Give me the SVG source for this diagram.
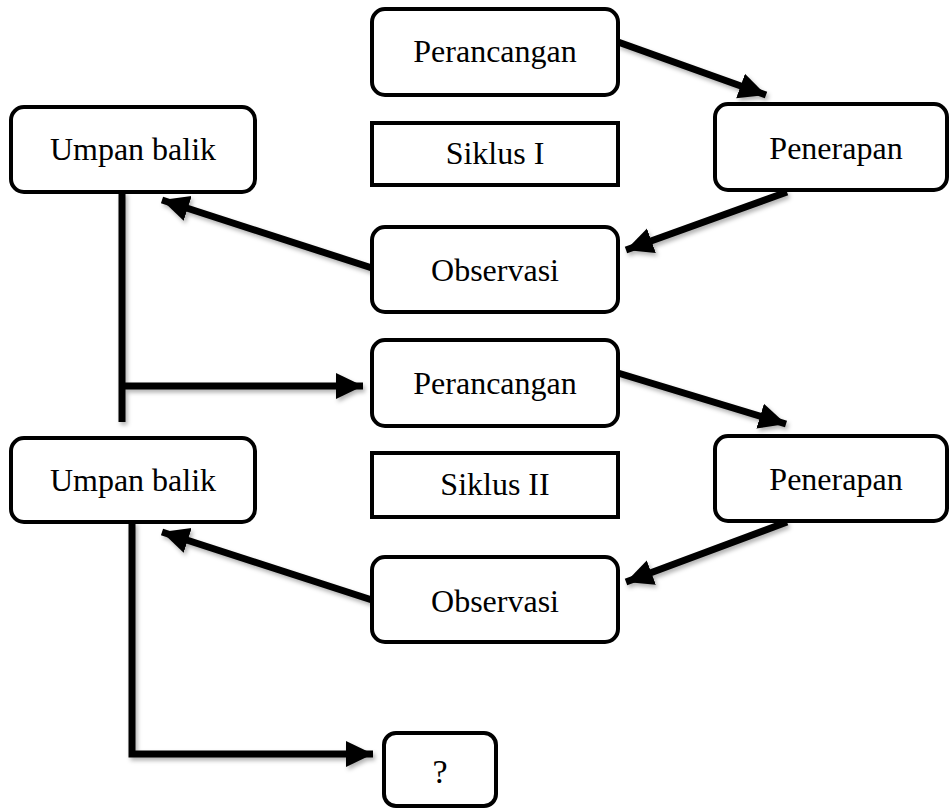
<svg xmlns="http://www.w3.org/2000/svg" width="950" height="809" viewBox="0 0 950 809">
<style>
.box{fill:#fff;stroke:#000;stroke-width:4}
.t{font-family:"Liberation Serif","Times New Roman",serif;font-size:32px;fill:#000;text-anchor:middle}
.q{font-size:34px}
.c{stroke:#000;stroke-width:7;fill:none}
</style>
<defs>
<marker id="ah" markerUnits="userSpaceOnUse" markerWidth="28" markerHeight="28" viewBox="0 0 28 28" refX="27" refY="14" orient="auto">
<path d="M0,1 L27,14 L0,27 Z" fill="#000"/>
</marker>
<filter id="sh" x="-10%" y="-10%" width="130%" height="130%">
<feDropShadow dx="2" dy="3" stdDeviation="2" flood-color="#000" flood-opacity="0.3"/>
</filter>
</defs>
<rect width="950" height="809" fill="#fff"/>
<g id="connectors" filter="url(#sh)">
<line class="c" x1="618" y1="42" x2="766" y2="95" marker-end="url(#ah)"/>
<line class="c" x1="787" y1="192" x2="626" y2="250" marker-end="url(#ah)"/>
<line class="c" x1="372" y1="268" x2="162" y2="200" marker-end="url(#ah)"/>
<line class="c" x1="122" y1="192" x2="122" y2="422"/>
<line class="c" x1="119" y1="386" x2="363" y2="386" marker-end="url(#ah)"/>
<line class="c" x1="618" y1="373" x2="786" y2="424" marker-end="url(#ah)"/>
<line class="c" x1="787" y1="522" x2="626" y2="582" marker-end="url(#ah)"/>
<line class="c" x1="372" y1="600" x2="162" y2="532" marker-end="url(#ah)"/>
<polyline class="c" points="132,522 132,754 373,754" marker-end="url(#ah)"/>
</g>
<g id="perancangan1"><rect class="box" x="372" y="9" width="246" height="86" rx="13"/><text class="t" x="495" y="62">Perancangan</text></g>
<g id="siklus1"><rect class="box" x="372" y="123" width="246" height="62"/><text class="t" x="495" y="164">Siklus I</text></g>
<g id="observasi1"><rect class="box" x="372" y="227" width="246" height="85" rx="13"/><text class="t" x="495" y="281">Observasi</text></g>
<g id="penerapan1"><rect class="box" x="715" y="104" width="232" height="86" rx="13"/><text class="t" x="836" y="159">Penerapan</text></g>
<g id="umpanbalik1"><rect class="box" x="11" y="107" width="244" height="85" rx="13"/><text class="t" x="133" y="160">Umpan balik</text></g>
<g id="perancangan2"><rect class="box" x="372" y="340" width="246" height="86" rx="13"/><text class="t" x="495" y="394">Perancangan</text></g>
<g id="siklus2"><rect class="box" x="372" y="453" width="246" height="64"/><text class="t" x="495" y="495">Siklus II</text></g>
<g id="observasi2"><rect class="box" x="372" y="557" width="246" height="85" rx="13"/><text class="t" x="495" y="612">Observasi</text></g>
<g id="penerapan2"><rect class="box" x="715" y="436" width="232" height="85" rx="13"/><text class="t" x="836" y="490">Penerapan</text></g>
<g id="umpanbalik2"><rect class="box" x="11" y="438" width="244" height="84" rx="13"/><text class="t" x="133" y="491">Umpan balik</text></g>
<g id="q"><rect class="box" x="384" y="733" width="112" height="73" rx="12"/><text class="t q" x="440" y="783">?</text></g>
</svg>
